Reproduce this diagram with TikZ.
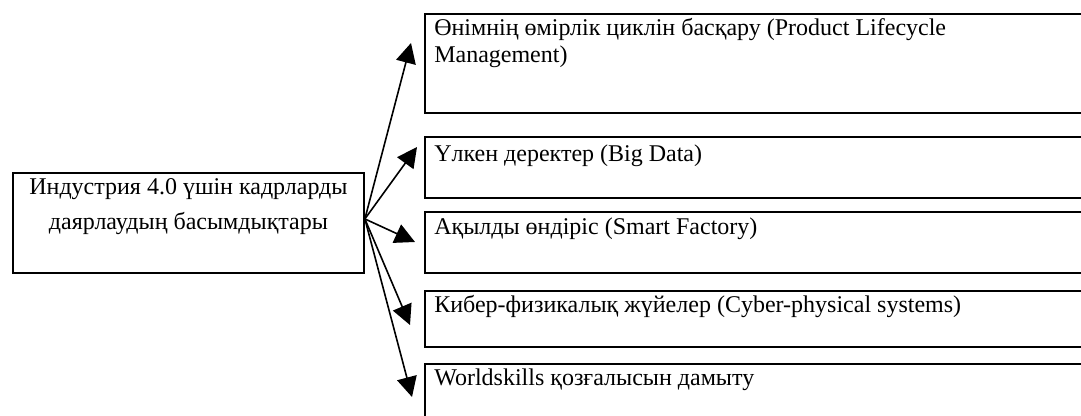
\documentclass[tikz,border=0pt]{standalone}
\usepackage{fontspec}
\setmainfont{Liberation Serif}
\usetikzlibrary{arrows.meta}

\begin{document}
\begin{tikzpicture}[x=0.75pt, y=-0.75pt,
      box/.style={draw, line width=1.4pt, rectangle, inner sep=0pt, anchor=north west},
      txt/.style={anchor=base west, inner sep=0pt, align=left,
         font=\fontsize{18}{20.25}\selectfont},
      arr/.style={line width=1.2pt, -{Triangle[length=15pt, width=15pt]}}]
      \clip (0,0) rectangle (1081,416);
      % main box
      \node[box, minimum width=263.25pt, minimum height=75pt] (prio) at (12,172) {};
      \node[anchor=base, inner sep=0pt, align=center,
         font=\fontsize{18}{26.25}\selectfont] (priotxt)
         at ([yshift=-43.5pt]prio.north)
         {Индустрия 4.0 үшін кадрларды\\даярлаудың басымдықтары};
      \coordinate (src) at ([yshift=3pt]prio.east);
      \def \Boxes {
         1/13/74.25/50/-13/30/{Өнімнің өмірлік циклін басқару (Product Lifecycle\\Management)},
         2/136/45.75/26/-7/11/{Үлкен деректер (Big Data)},
         3/211/45.75/24/-9/31/{Ақылды өндіріс (Smart Factory)},
         4/290/42/23/-14/35/{Кибер-физикалық жүйелер (Cyber-physical systems)},
         5/363/45/22/-12/34/{Worldskills қозғалысын дамыту}}
      \foreach \i / \ty / \hh / \by / \dx / \dy / \txt in \Boxes {
         \node[box, minimum width=520pt, minimum height=\hh pt] (b\i) at (424,\ty) {};
         \node[txt] (t\i) at ([shift={(10,\by)}]b\i.north west) {\txt};
         \draw[arr] (src) -- ([shift={(\dx,\dy)}]b\i.north west);
      }
   \end{tikzpicture}
\end{document}
